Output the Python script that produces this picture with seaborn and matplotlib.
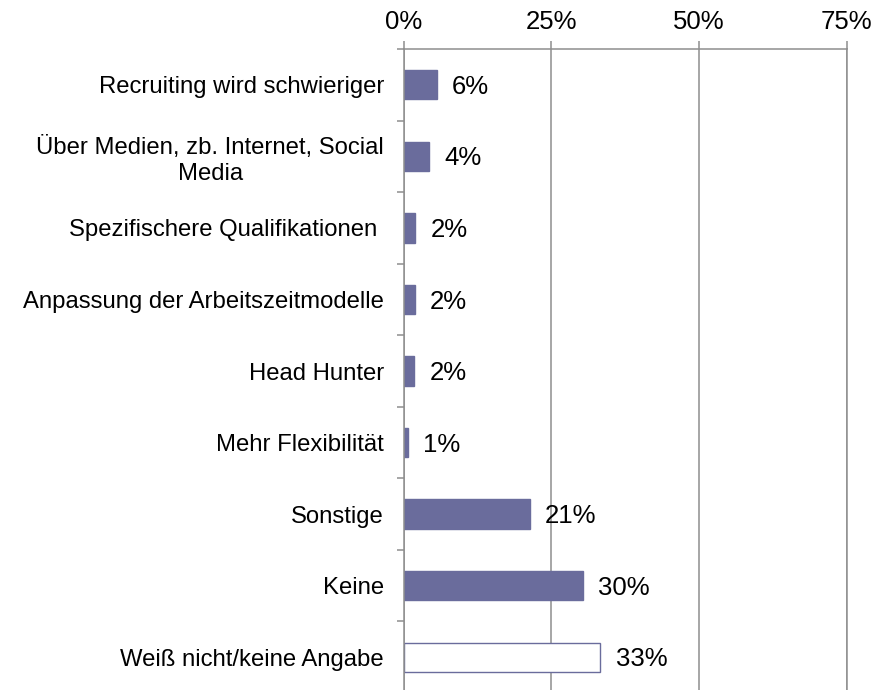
import numpy as np
import matplotlib
matplotlib.use("Agg")
import matplotlib.pyplot as plt
import seaborn as sns

# --- data ---
categories = [
    "Recruiting wird schwieriger",
    "Über Medien, zb. Internet, Social\nMedia",
    "Spezifischere Qualifikationen ",
    "Anpassung der Arbeitszeitmodelle",
    "Head Hunter",
    "Mehr Flexibilität",
    "Sonstige",
    "Keine",
    "Weiß nicht/keine Angabe",
]
shares = [5.65, 4.3, 2.0, 1.9, 1.8, 0.7, 21.35, 30.4, 33.3]
x_ticks = [0, 25, 50, 75]
x_ticklabels = ["0%", "25%", "50%", "75%"]

BAR_COLOR = "#6A6C9C"
LINE_GRAY = "#8E8E8E"

sns.set_style("white")
plt.rcParams["font.family"] = ["Liberation Sans", "DejaVu Sans"]

fig = plt.figure(figsize=(8.91, 6.90), dpi=100)
# axes box in pixels: x 403.5..846.7, y 49..693 (bottom slightly cut off like the source)
ax = fig.add_axes([403.5 / 891, 1 - 693 / 690, (846.7 - 403.5) / 891, (693 - 49) / 690])

sns.barplot(x=shares, y=categories, orient="h", color=BAR_COLOR, width=0.41,
            edgecolor=BAR_COLOR, linewidth=1.0, saturation=1, ax=ax)
# last bar ("Weiß nicht/keine Angabe") is hollow
ax.patches[-1].set_facecolor("white")

# value labels next to bars
for p, v in zip(ax.patches, shares):
    ax.annotate(f"{round(v)}%", (p.get_width(), p.get_y() + p.get_height() / 2),
                xytext=(11, -1.5), textcoords="offset points",
                va="center", ha="left", fontsize=18.5, color="black")

ax.set_xlim(0, 75)
ax.set_ylim(8.5, -0.5)
ax.set_xticks(x_ticks)
ax.set_xticklabels(x_ticklabels)
ax.xaxis.tick_top()
ax.tick_params(axis="x", which="major", top=True, bottom=False, length=6,
               width=1.1, color=LINE_GRAY, labelsize=18.5, labelcolor="black", pad=5)
ax.grid(axis="x", color=LINE_GRAY, linewidth=1.1)
ax.set_axisbelow(True)

# category tick marks sit between categories
ax.set_yticks(np.arange(-0.5, 9, 1), minor=True)
ax.tick_params(axis="y", which="major", length=0, labelsize=17.2,
               labelcolor="black", pad=14)
ax.tick_params(axis="y", which="minor", left=True, length=5, width=1.1, color=LINE_GRAY)
for lbl in ax.get_yticklabels():
    lbl.set_multialignment("center")

for side in ["left", "top", "right"]:
    ax.spines[side].set_visible(True)
    ax.spines[side].set_color(LINE_GRAY)
    ax.spines[side].set_linewidth(1.1)
ax.spines["bottom"].set_visible(False)
ax.set_xlabel("")
ax.set_ylabel("")

fig.savefig("out.png", dpi=100)
